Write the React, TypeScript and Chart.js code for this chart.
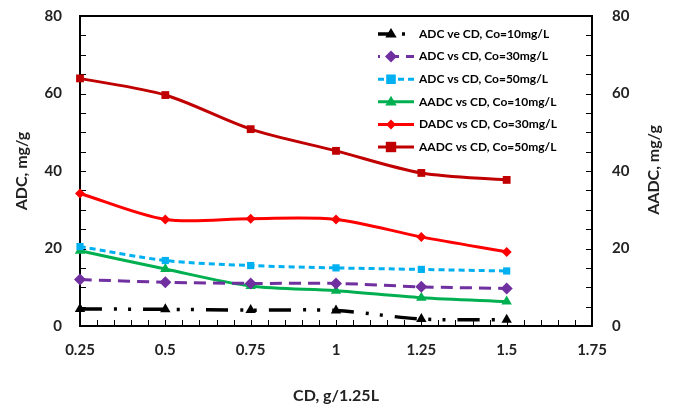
import React, { useEffect, useRef } from "react";
import { Chart, registerables } from "chart.js";

Chart.register(...registerables);

const cdValues = [0.25, 0.5, 0.75, 1, 1.25, 1.5];
const adc10 = [4.4, 4.3, 4.1, 4.0, 1.8, 1.6];
const adc30 = [12.0, 11.3, 11.0, 11.0, 10.1, 9.7];
const adc50 = [20.5, 16.9, 15.6, 15.0, 14.6, 14.2];
const aadc10 = [19.4, 14.7, 10.3, 9.1, 7.3, 6.3];
const dadc30 = [34.2, 27.5, 27.7, 27.5, 23.0, 19.1];
const aadc50 = [63.9, 59.6, 50.8, 45.2, 39.5, 37.7];

const xTicks = [0.25, 0.5, 0.75, 1, 1.25, 1.5, 1.75];
const yTicks = [0, 20, 40, 60, 80];

const legendLabels = [
  "ADC ve CD, Co=10mg/L",
  "ADC vs CD, Co=30mg/L",
  "ADC vs CD, Co=50mg/L",
  "AADC vs CD, Co=10mg/L",
  "DADC vs CD, Co=30mg/L",
  "AADC vs CD, Co=50mg/L",
];

const rightTitle = "AADC, mg/g";

const FONT = "Lato, 'Open Sans', sans-serif";

type Style = {
  color: string;
  dash: number[];
  marker: "triangle" | "rectRot" | "rect";
  radius: number;
  width: number;
  cap: CanvasLineCap;
};

const styles: Style[] = [
  { color: "#000000", dash: [22, 12, 3, 11, 3, 12], marker: "triangle", radius: 6, width: 3.5, cap: "butt" },
  { color: "#7030A0", dash: [12, 7], marker: "rectRot", radius: 6, width: 3, cap: "butt" },
  { color: "#00B0F0", dash: [6, 4], marker: "rect", radius: 6, width: 3, cap: "butt" },
  { color: "#00B050", dash: [], marker: "triangle", radius: 6, width: 3, cap: "butt" },
  { color: "#FF0000", dash: [], marker: "rectRot", radius: 5, width: 3, cap: "butt" },
  { color: "#C00000", dash: [], marker: "rect", radius: 6.5, width: 3, cap: "butt" },
];

const seriesData = [adc10, adc30, adc50, aadc10, dadc30, aadc50];

function drawMarker(ctx: CanvasRenderingContext2D, kind: string, x: number, y: number, r: number, color: string) {
  ctx.save();
  ctx.fillStyle = color;
  ctx.setLineDash([]);
  ctx.beginPath();
  if (kind === "triangle") {
    ctx.moveTo(x, y - r);
    ctx.lineTo(x + r * 0.95, y + r * 0.6);
    ctx.lineTo(x - r * 0.95, y + r * 0.6);
  } else if (kind === "rectRot") {
    ctx.moveTo(x, y - r);
    ctx.lineTo(x + r, y);
    ctx.lineTo(x, y + r);
    ctx.lineTo(x - r, y);
  } else {
    const s = r * 0.8;
    ctx.rect(x - s, y - s, 2 * s, 2 * s);
  }
  ctx.closePath();
  ctx.fill();
  ctx.restore();
}

const framePlugin = {
  id: "frame",
  beforeDatasetsDraw(chart: any) {
    const { ctx, chartArea, scales } = chart;
    const { left, right, top, bottom } = chartArea;
    const y = scales.y;
    const x = scales.x;
    ctx.save();
    ctx.strokeStyle = "#000";
    ctx.lineWidth = 1;
    ctx.setLineDash([]);
    ctx.beginPath();
    for (let v = 0; v <= 80; v += 5) {
      const py = Math.round(y.getPixelForValue(v)) + 0.5;
      ctx.moveTo(left, py);
      ctx.lineTo(left + 6, py);
      ctx.moveTo(right, py);
      ctx.lineTo(right - 6, py);
    }
    for (let i = 0; i <= 30; i++) {
      const v = 0.25 + i * 0.05;
      const px = Math.round(x.getPixelForValue(v)) + 0.5;
      ctx.moveTo(px, bottom);
      ctx.lineTo(px, bottom - 6);
    }
    ctx.stroke();
    ctx.lineWidth = 2;
    ctx.strokeRect(left, top, right - left, bottom - top);
    ctx.restore();
  },
  afterDraw(chart: any) {
    const { ctx, chartArea } = chart;
    ctx.save();
    // right axis title, reading bottom-to-top
    ctx.save();
    ctx.font = `bold 16px ${FONT}`;
    ctx.fillStyle = "#222";
    ctx.textAlign = "center";
    ctx.textBaseline = "middle";
    ctx.translate(654, 170);
    ctx.rotate(-Math.PI / 2);
    ctx.fillText(rightTitle, 0, 0);
    ctx.restore();

    const x0 = 368;
    const x1 = 414;
    const mx = 391;
    const tx = 419;
    ctx.font = `bold 12px ${FONT}`;
    ctx.textBaseline = "middle";
    ctx.textAlign = "left";
    legendLabels.forEach((lab, i) => {
      const st = styles[i];
      const yy = 34 + i * 22.6;
      ctx.save();
      ctx.beginPath();
      ctx.rect(378, yy - 10, 40, 20);
      ctx.clip();
      ctx.strokeStyle = st.color;
      ctx.lineWidth = st.width;
      ctx.lineCap = st.cap;
      ctx.setLineDash(st.dash);
      ctx.beginPath();
      ctx.moveTo(x0, yy);
      ctx.lineTo(x1, yy);
      ctx.stroke();
      drawMarker(ctx, st.marker, mx, yy, st.radius, st.color);
      ctx.restore();
      ctx.fillStyle = "#000";
      ctx.fillText(lab, tx, yy);
    });
    ctx.restore();
  },
};

export default function App() {
  const ref = useRef<HTMLCanvasElement | null>(null);
  useEffect(() => {
    if (!ref.current) return;
    const datasets = seriesData.map((d, i) => {
      const st = styles[i];
      return {
        label: legendLabels[i],
        data: d.map((v, j) => ({ x: cdValues[j], y: v })),
        borderColor: st.color,
        backgroundColor: st.color,
        borderWidth: st.width,
        borderDash: st.dash,
        borderCapStyle: st.cap,
        pointStyle: st.marker,
        pointRadius: st.marker === "rect" ? st.radius * 0.85 : st.radius,
        pointBorderWidth: 0,
        pointBackgroundColor: st.color,
        tension: 0.3,
        clip: false as any,
        yAxisID: "y",
      };
    });
    const tickFont = { family: FONT, size: 15, weight: "bold" as const };
    const chart = new Chart(ref.current, {
      type: "line",
      data: { datasets: datasets as any },
      plugins: [framePlugin],
      options: {
        animation: false,
        responsive: false,
        layout: { padding: { top: 16, left: 0, right: 0, bottom: 0 } },
        plugins: { legend: { display: false }, tooltip: { enabled: false } },
        scales: {
          x: {
            type: "linear",
            min: 0.25,
            max: 1.75,
            afterBuildTicks: (s: any) => {
              s.ticks = xTicks.map((v) => ({ value: v }));
            },
            ticks: {
              font: tickFont,
              color: "#222",
              padding: 15,
              callback: (v: any) => String(v),
            },
            grid: { display: false, drawTicks: false },
            border: { display: false },
            title: {
              display: true,
              text: "CD, g/1.25L",
              font: { family: FONT, size: 16, weight: "bold" },
              color: "#222",
              padding: { top: 14, bottom: 0 },
            },
            afterFit: (s: any) => {
              s.height = 79;
              s.paddingLeft = 0;
              s.paddingRight = 0;
            },
          },
          y: {
            type: "linear",
            position: "left",
            min: 0,
            max: 80,
            afterBuildTicks: (s: any) => {
              s.ticks = yTicks.map((v) => ({ value: v }));
            },
            ticks: { font: tickFont, color: "#222", padding: 18 },
            grid: { display: false, drawTicks: false },
            border: { display: false },
            title: {
              display: true,
              text: "ADC, mg/g",
              font: { family: FONT, size: 16, weight: "bold" },
              color: "#222",
              padding: { top: 12, bottom: 0 },
            },
            afterFit: (s: any) => {
              s.width = 80;
              s.paddingTop = 0;
              s.paddingBottom = 0;
            },
          },
          y2: {
            type: "linear",
            position: "right",
            min: 0,
            max: 80,
            afterBuildTicks: (s: any) => {
              s.ticks = yTicks.map((v) => ({ value: v }));
            },
            ticks: { font: tickFont, color: "#222", padding: 20 },
            grid: { display: false, drawTicks: false },
            border: { display: false },
            title: { display: false },
            afterFit: (s: any) => {
              s.width = 83;
              s.paddingTop = 0;
              s.paddingBottom = 0;
            },
          },
        },
      },
    });
    return () => chart.destroy();
  }, []);
  return (
    <div style={{ position: "fixed", left: 0, top: 0, width: 675, height: 405, background: "#fff" }}>
      <canvas ref={ref} width={675} height={405} style={{ display: "block" }} />
    </div>
  );
}
